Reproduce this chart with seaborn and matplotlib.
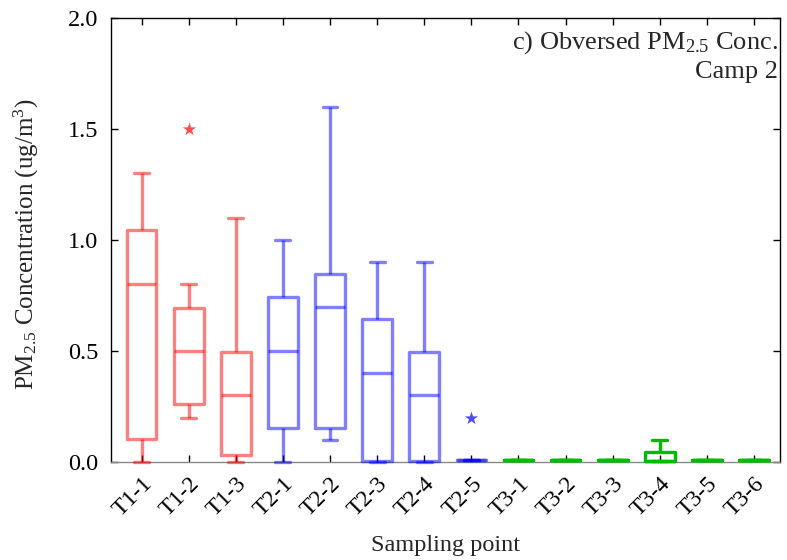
import pandas as pd
import matplotlib.pyplot as plt
import seaborn as sns
from matplotlib.colors import to_rgb
from matplotlib.ticker import FormatStrFormatter

# Sampling points and their transect group
points = ["T1-1", "T1-2", "T1-3",
          "T2-1", "T2-2", "T2-3", "T2-4", "T2-5",
          "T3-1", "T3-2", "T3-3", "T3-4", "T3-5", "T3-6"]
groups = ["T1"] * 3 + ["T2"] * 5 + ["T3"] * 6

# Five-number summaries (ug/m3)
whisker_low = [0.0, 0.2, 0.0, 0.0, 0.1, 0.0, 0.0, 0.008, 0.008, 0.008, 0.008, 0.005, 0.008, 0.008]
q1 = [0.105, 0.26, 0.03, 0.155, 0.155, 0.005, 0.005, 0.008, 0.008, 0.008, 0.008, 0.005, 0.008, 0.008]
median = [0.8, 0.5, 0.3, 0.5, 0.7, 0.4, 0.3, 0.008, 0.008, 0.008, 0.008, 0.005, 0.008, 0.008]
q3 = [1.045, 0.695, 0.495, 0.745, 0.845, 0.645, 0.495, 0.008, 0.008, 0.008, 0.008, 0.045, 0.008, 0.008]
whisker_high = [1.3, 0.8, 1.1, 1.0, 1.6, 0.9, 0.9, 0.008, 0.008, 0.008, 0.008, 0.1, 0.008, 0.008]

# Outliers (star markers)
outlier_points = ["T1-2", "T2-5"]
outlier_groups = ["T1", "T2"]
outlier_values = [1.5, 0.2]

sns.set_style("ticks")
plt.rcParams["font.family"] = ["Liberation Serif", "DejaVu Serif"]
plt.rcParams["mathtext.fontset"] = "custom"
plt.rcParams["mathtext.rm"] = "Liberation Serif"
plt.rcParams["mathtext.it"] = "Liberation Serif:italic"

# long table: each box built from its five summary values
rows = []
for p, g, a, b, c, d, e in zip(points, groups, whisker_low, q1, median, q3, whisker_high):
    for v in (a, b, c, d, e):
        rows.append({"point": p, "group": g, "value": v})
df = pd.DataFrame(rows)

palette = {"T1": "#ff0000", "T2": "#0000ff", "T3": "#00bb00"}

fig, ax = plt.subplots(figsize=(7.87, 5.6), dpi=100)
fig.subplots_adjust(left=0.141, right=0.991, top=0.968, bottom=0.175)

sns.boxplot(data=df, x="point", y="value", hue="group", order=points, palette=palette,
            whis=(0, 100), fill=False, width=0.63, linewidth=2.4, dodge=False,
            legend=False, ax=ax)

# light (semi-transparent) red and blue lines, solid green
green = to_rgb(palette["T3"])
for line in ax.lines:
    line.set_clip_on(False)
    line.set_zorder(3)
    if to_rgb(line.get_color()) != green:
        line.set_alpha(0.5)

sns.stripplot(x=outlier_points, y=outlier_values, hue=outlier_groups, order=points,
              palette={"T1": "#ff0000", "T2": "#0000ff"}, jitter=False, marker="*",
              size=10, alpha=0.7, legend=False, ax=ax)

ax.set_xlim(-0.65, 13.55)
ax.set_ylim(0, 2.0)
ax.set_yticks([0, 0.5, 1.0, 1.5, 2.0])
ax.yaxis.set_major_formatter(FormatStrFormatter("%.1f"))
ax.tick_params(direction="in", top=True, right=True, length=5, width=1, colors="black")
ax.tick_params(axis="y", pad=9, labelsize=17.5)
ax.tick_params(axis="x", pad=8, labelsize=17)
plt.setp(ax.get_xticklabels(), rotation=45, ha="right", va="top", rotation_mode="anchor")
for s in ax.spines.values():
    s.set_visible(True)
    s.set_linewidth(1)
    s.set_color("black")
ax.spines["bottom"].set_color("#888888")

ax.set_xlabel("Sampling point", fontsize=17.5)
ax.xaxis.set_label_coords(0.5, -0.165)
ax.set_ylabel("PM$_{2.5}$ Concentration (ug/m$^3$)", fontsize=18)
ax.yaxis.set_label_coords(-0.105, 0.49)

ax.text(0.997, 0.930, "c) Obversed PM$_{2.5}$ Conc.", transform=ax.transAxes,
        ha="right", va="baseline", fontsize=19)
ax.text(0.997, 0.865, "Camp 2", transform=ax.transAxes,
        ha="right", va="baseline", fontsize=19)

plt.savefig("out.png", dpi=100)
